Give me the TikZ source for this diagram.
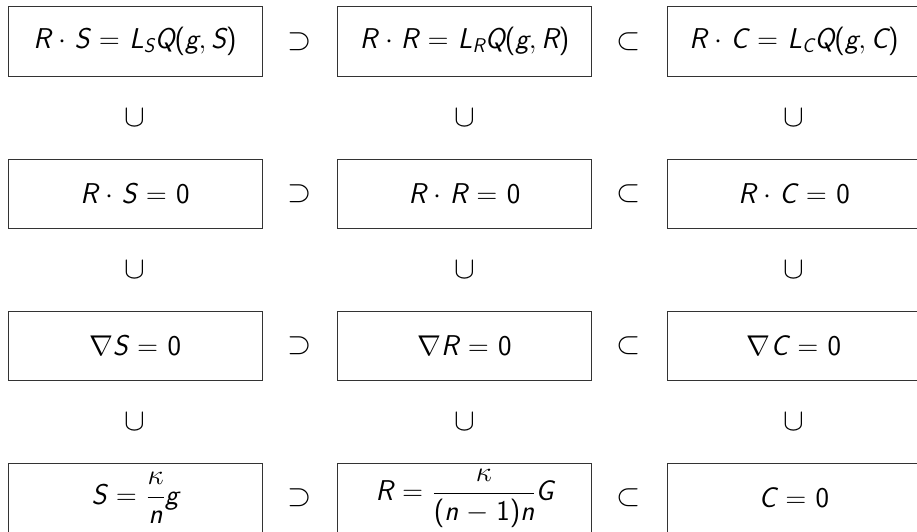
\documentclass[tikz,border=0pt]{standalone}
\usepackage{graphicx}
\DeclareSymbolFont{sfit}{TU}{lmss}{m}{sl}
\DeclareSymbolFont{sfup}{TU}{lmss}{m}{n}
\DeclareMathSymbol{R}{\mathalpha}{sfit}{`R}
\DeclareMathSymbol{S}{\mathalpha}{sfit}{`S}
\DeclareMathSymbol{L}{\mathalpha}{sfit}{`L}
\DeclareMathSymbol{Q}{\mathalpha}{sfit}{`Q}
\DeclareMathSymbol{C}{\mathalpha}{sfit}{`C}
\DeclareMathSymbol{G}{\mathalpha}{sfit}{`G}
\DeclareMathSymbol{g}{\mathalpha}{sfit}{`g}
\DeclareMathSymbol{n}{\mathalpha}{sfit}{`n}
\DeclareMathSymbol{0}{\mathalpha}{sfup}{`0}
\DeclareMathSymbol{1}{\mathalpha}{sfup}{`1}
\DeclareMathSymbol{(}{\mathopen}{sfup}{`(}
\DeclareMathSymbol{)}{\mathclose}{sfup}{`)}
\DeclareMathSizes{24.88}{24.88}{17.28}{12}
\newcommand\eqn[1]{\scalebox{1.15}{$\thickmuskip=6mu\medmuskip=5mu #1$}}
\newcommand\relsym[1]{\scalebox{1.25}{$#1$}}
\begin{document}
\begin{tikzpicture}[x=1pt,y=-1pt,
  eqbox/.style={draw=black!80, line width=0.8pt, minimum width=254pt, minimum height=69.5pt, inner sep=0pt, anchor=center},
  rel/.style={inner sep=0pt, anchor=center},
  every node/.style={font=\fontsize{24.88}{30}\selectfont}]
\useasboundingbox (0,0) rectangle (917,531);
% columns 135, 464.5, 794 ; rows 41.5, 193.7, 345.9, 498.1
\node[eqbox] (a1) at (135,41.5) {\eqn{R\cdot S=L_SQ(g,S)}};
\node[eqbox] (b1) at (464.5,41.5) {\eqn{R\cdot R=L_RQ(g,R)}};
\node[eqbox] (c1) at (794,41.5) {\eqn{R\cdot C=L_CQ(g,C)}};
\node[eqbox] (a2) at (135,193.7) {\eqn{R\cdot S=0}};
\node[eqbox] (b2) at (464.5,193.7) {\eqn{R\cdot R=0}};
\node[eqbox] (c2) at (794,193.7) {\eqn{R\cdot C=0}};
\node[eqbox] (a3) at (135,345.9) {\eqn{\nabla S=0}};
\node[eqbox] (b3) at (464.5,345.9) {\eqn{\nabla R=0}};
\node[eqbox] (c3) at (794,345.9) {\eqn{\nabla C=0}};
\node[eqbox] (a4) at (135,498.1) {\eqn{S=\displaystyle\frac{\kappa}{n}g}};
\node[eqbox] (b4) at (464.5,498.1) {\eqn{R=\displaystyle\frac{\kappa}{(n-1)n}G}};
\node[eqbox] (c4) at (794,498.1) {\eqn{C=0}};
% horizontal relations
\foreach \r/\y in {1/41.5,2/193.7,3/345.9,4/498.1}{
  \node[rel] (sup\r) at (300,\y) {\relsym{\supset}};
  \node[rel] (sub\r) at (629,\y) {\relsym{\subset}};
}
% vertical relations
\foreach \r/\y in {1/117.5,2/269.8,3/422}{
  \node[rel] (ua\r) at (135,\y) {\relsym{\cup}};
  \node[rel] (ub\r) at (464.5,\y) {\relsym{\cup}};
  \node[rel] (uc\r) at (794,\y) {\relsym{\cup}};
}
\end{tikzpicture}
\end{document}
